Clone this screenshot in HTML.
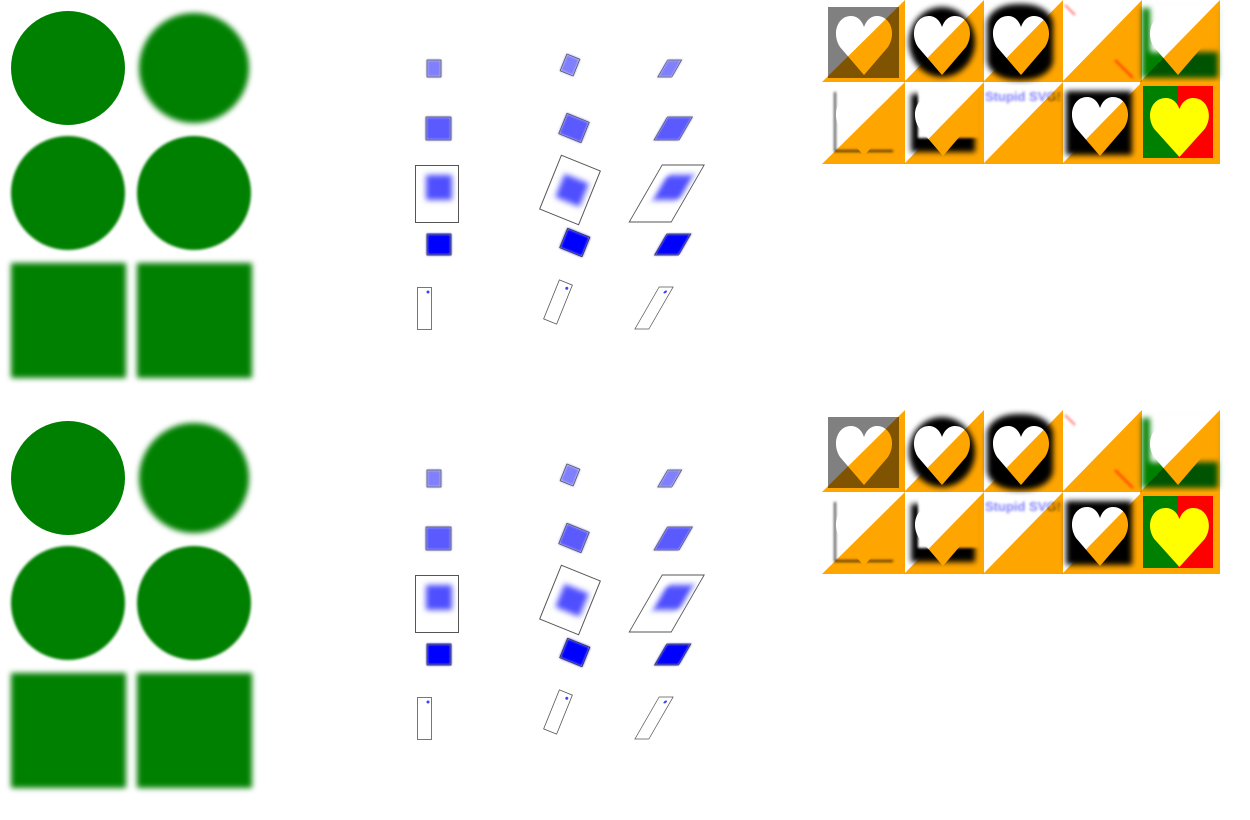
<!DOCTYPE html>
<html><head><meta charset="utf-8"><style>html,body{margin:0;padding:0;background:#fff;width:1250px;height:820px;overflow:hidden}.mul{mix-blend-mode:multiply}</style></head>
<body>
<svg width="1250" height="820" viewBox="0 0 1250 820" xmlns="http://www.w3.org/2000/svg" style="background:#fff">
<defs>
<filter id="b1" x="-50%" y="-50%" width="200%" height="200%"><feGaussianBlur stdDeviation="1.2"/></filter>
<filter id="b3" x="-50%" y="-50%" width="200%" height="200%"><feGaussianBlur stdDeviation="3"/></filter>
<filter id="bb" x="-50%" y="-50%" width="200%" height="200%"><feGaussianBlur stdDeviation="3"/></filter>
<path id="heart" d="M29,60 L5,32 C-4,18 3,0 17,1 C23,1.5 27,6 29,12 C31,6 35,1.5 41,1 C55,0 62,18 53,32 Z"/>
<g id="half">
  <circle cx="68" cy="68" r="57" fill="#008000"/>
  <circle cx="194" cy="68" r="55" fill="#008000" filter="url(#b3)"/>
  <circle cx="68" cy="193" r="57" fill="#008000" filter="url(#b1)"/>
  <circle cx="194" cy="193" r="57" fill="#008000" filter="url(#b1)"/>
  <rect x="11" y="263" width="115" height="115" fill="#008000" filter="url(#b3)"/>
  <rect x="137" y="263" width="115" height="115" fill="#008000" filter="url(#b3)"/>

  <g>
    <rect x="427" y="60" width="14" height="17" fill="#8080ff" filter="url(#b1)"/>
    <rect x="427" y="60" width="14" height="17" fill="none" stroke="#555" stroke-width="0.8"/>
    <rect x="426" y="117" width="25" height="23" fill="#5a5aff" filter="url(#b1)"/>
    <rect x="426" y="117" width="25" height="23" fill="none" stroke="#555" stroke-width="0.8"/>
    <rect x="426" y="175" width="26" height="25" fill="#5050ff" filter="url(#b3)"/>
    <rect x="415.5" y="165.5" width="43" height="57" fill="none" stroke="#555" stroke-width="1"/>
    <rect x="427" y="234" width="24" height="21" fill="#0000ff" filter="url(#b1)"/>
    <rect x="427" y="234" width="24" height="21" fill="none" stroke="#333" stroke-width="0.8"/>
    <rect x="417.5" y="287.5" width="14" height="42" fill="none" stroke="#555" stroke-width="0.8"/>
    <circle cx="428" cy="292" r="1.5" fill="#4040ff"/>
  </g>
  <g transform="translate(570,65) rotate(22)"><rect x="-7" y="-9" width="14" height="18" fill="#8080ff" filter="url(#b1)"/><rect x="-7" y="-9" width="14" height="18" fill="none" stroke="#555" stroke-width="0.8"/></g>
  <g transform="translate(574,128) rotate(22)"><rect x="-12" y="-11" width="24" height="22" fill="#5a5aff" filter="url(#b1)"/><rect x="-12" y="-11" width="24" height="22" fill="none" stroke="#555" stroke-width="0.8"/></g>
  <g transform="translate(570,190) rotate(22)"><rect x="-11" y="-13" width="26" height="25" fill="#5050ff" filter="url(#b3)"/><rect x="-21" y="-29" width="42" height="58" fill="none" stroke="#555" stroke-width="1"/></g>
  <g transform="translate(575,242) rotate(22)"><rect x="-12" y="-10" width="24" height="21" fill="#0000ff" filter="url(#b1)"/><rect x="-12" y="-10" width="24" height="21" fill="none" stroke="#333" stroke-width="0.8"/></g>
  <g transform="translate(558,302) rotate(22)"><rect x="-7" y="-21" width="14" height="42" fill="none" stroke="#555" stroke-width="0.8"/><circle cx="3" cy="-16" r="1.5" fill="#4040ff"/></g>
  <g transform="translate(670,68) skewX(-30)"><rect x="-7" y="-8" width="14" height="17" fill="#8080ff" filter="url(#b1)"/><rect x="-7" y="-8" width="14" height="17" fill="none" stroke="#555" stroke-width="0.8"/></g>
  <g transform="translate(673,128) skewX(-30)"><rect x="-12" y="-11" width="25" height="23" fill="#5a5aff" filter="url(#b1)"/><rect x="-12" y="-11" width="25" height="23" fill="none" stroke="#555" stroke-width="0.8"/></g>
  <g transform="translate(667,193) skewX(-30)"><rect x="-10" y="-18" width="26" height="25" fill="#5050ff" filter="url(#b3)"/><rect x="-21" y="-28" width="42" height="57" fill="none" stroke="#555" stroke-width="1"/></g>
  <g transform="translate(673,244) skewX(-30)"><rect x="-12" y="-10" width="24" height="21" fill="#0000ff" filter="url(#b1)"/><rect x="-12" y="-10" width="24" height="21" fill="none" stroke="#333" stroke-width="0.8"/></g>
  <g transform="translate(654,308) skewX(-30)"><rect x="-7" y="-21" width="14" height="42" fill="none" stroke="#555" stroke-width="0.8"/><circle cx="2" cy="-16" r="1.5" fill="#4040ff"/></g>

  <!-- heart grid row 1 -->
  <rect x="828" y="7" width="71" height="71" fill="#808080"/>
  <use href="#heart" transform="translate(835,15)" fill="#fff"/>
  <ellipse cx="942" cy="42" rx="33" ry="35" fill="#000" filter="url(#bb)"/>
  <use href="#heart" transform="translate(913,15)" fill="#fff"/>
  <rect x="987" y="4" width="66" height="76" rx="30" ry="20" fill="#000" filter="url(#bb)"/>
  <use href="#heart" transform="translate(992,15)" fill="#fff"/>
  <line x1="1065" y1="5" x2="1075" y2="15" stroke="#ff8080" stroke-width="2" filter="url(#b1)"/>
  <line x1="1115" y1="60" x2="1133" y2="78" stroke="#ff6020" stroke-width="2" filter="url(#b1)"/>
  <rect x="1142" y="8" width="76" height="70" fill="#008000" filter="url(#b3)"/>
  <rect x="1150" y="0" width="72" height="52" fill="#fff" filter="url(#b3)"/>
  <use href="#heart" transform="translate(1149,15)" fill="#fff"/>
  <!-- row 2 -->
  <path d="M835,92 L835,151 L893,151" fill="none" stroke="#444" stroke-width="2" filter="url(#b1)"/>
  <use href="#heart" transform="translate(835,96)" fill="#fff"/>
  <rect x="911" y="94" width="64" height="58" fill="#000" filter="url(#bb)"/>
  <rect x="918" y="86" width="62" height="52" fill="#fff" filter="url(#b1)"/>
  <use href="#heart" transform="translate(914,96)" fill="#fff"/>
  <text x="985" y="101" font-family="Liberation Sans, sans-serif" font-weight="bold" font-size="13" fill="#8080ff" filter="url(#b1)">Stupid SVG!</text>
  <rect x="1066" y="91" width="66" height="64" fill="#000" filter="url(#bb)"/>
  <use href="#heart" transform="translate(1071,96)" fill="#fff"/>

  <g fill="#ffa500">
    <polygon class="mul" points="822,82 905,0 905,82"/>
    <polygon class="mul" points="904,82 984,0 984,82"/>
    <polygon class="mul" points="983,82 1063,0 1063,82"/>
    <polygon class="mul" points="1062,82 1142,0 1142,82"/>
    <polygon class="mul" points="1140,82 1220,0 1220,82"/>
    <polygon class="mul" points="822,164 905,82 905,164"/>
    <polygon class="mul" points="904,164 984,82 984,164"/>
    <polygon class="mul" points="983,164 1063,82 1063,164"/>
    <polygon class="mul" points="1062,164 1142,82 1142,164"/>
  </g>
  <rect x="1140" y="82" width="80" height="82" fill="#ffa500"/>
  <rect x="1143" y="86" width="35" height="72" fill="#008000"/>
  <rect x="1178" y="86" width="35" height="72" fill="#ff0000"/>
  <use href="#heart" transform="translate(1149,97) scale(1.05,1)" fill="#ffff00"/>
</g>
</defs>
<rect width="1250" height="820" fill="#fff"/>
<use href="#half"/>
<use href="#half" transform="translate(0,410)"/>
</svg>
</body></html>
